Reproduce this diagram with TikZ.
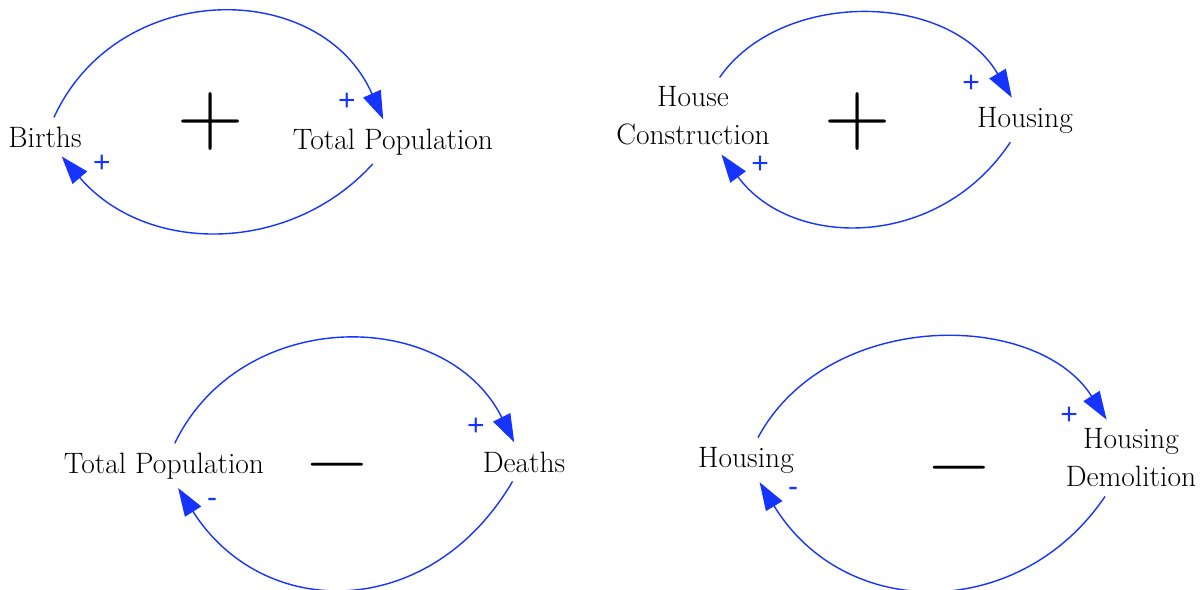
\documentclass[tikz,border=0pt]{standalone}
\usepackage{fontspec}
\newfontfamily\labelfont{Liberation Sans}
\usetikzlibrary{arrows.meta}
\definecolor{linkblue}{RGB}{22,52,255}
\begin{document}
\begin{tikzpicture}[x=1pt,y=-1pt,
  var/.style={font=\fontsize{29.5}{38}\selectfont, inner sep=9pt, align=center},
  link/.style={draw=linkblue, line width=1.4pt, -{Triangle[length=28pt,width=19pt]}},
  pol/.style={text=linkblue, font=\labelfont\fontsize{30}{30}\selectfont, inner sep=0pt},
  loopplus/.style={font=\fontsize{92}{92}\selectfont, inner sep=0pt, anchor=base},
  loopminus/.style={font=\fontsize{83}{83}\selectfont, inner sep=0pt, anchor=base}]
\useasboundingbox (0,0) rectangle (1201,589);
\fill[white] (0,0) rectangle (1201,589);

% Panel 1
\node[var, anchor=base] (births) at (45,147) {Births};
\node[var, anchor=base] (tp1) at (393,149) {Total Population};
\node[loopplus] (lp1) at (211,144) {+};
\draw[link] (births) .. controls (118,-22) and (321,-22) .. (tp1);
\draw[link] (tp1) .. controls (290,255) and (146,255) .. (births);
\node[pol] (s1a) at (347,102) {+};
\node[pol] (s1b) at (102,164) {+};

% Panel 2
\node[var] (hc) at (693,116) {House\\Construction};
\node[var, anchor=base] (housing2) at (1025,127) {Housing};
\node[loopplus] (lp2) at (858,144) {+};
\draw[link] (hc) .. controls (780,-10) and (948,-10) .. (housing2);
\draw[link] (housing2) .. controls (939,250) and (792,250) .. (hc);
\node[pol] (s2a) at (971,84) {+};
\node[pol] (s2b) at (760,165) {+};

% Panel 3
\node[var, anchor=base] (tp3) at (164,473) {Total Population};
\node[var, anchor=base] (deaths) at (524,472) {Deaths};
\node[loopminus] (lm3) at (337,485) {−};
\draw[link] (tp3) .. controls (241,306) and (446,306) .. (deaths);
\draw[link] (deaths) .. controls (430,622) and (263,622) .. (tp3);
\node[pol] (s3a) at (476,427) {+};
\node[pol] (s3b) at (212,503) {-};

% Panel 4
\node[var, anchor=base] (housing4) at (746,467) {Housing};
\node[var] (hd) at (1131,458) {Housing\\Demolition};
\node[loopminus] (lm4) at (959,488) {−};
\draw[link] (housing4) .. controls (827,309) and (1036,309) .. (hd);
\draw[link] (hd) .. controls (1020,622) and (845,622) .. (housing4);
\node[pol] (s4a) at (1069,416) {+};
\node[pol] (s4b) at (793,492) {-};
\end{tikzpicture}
\end{document}
